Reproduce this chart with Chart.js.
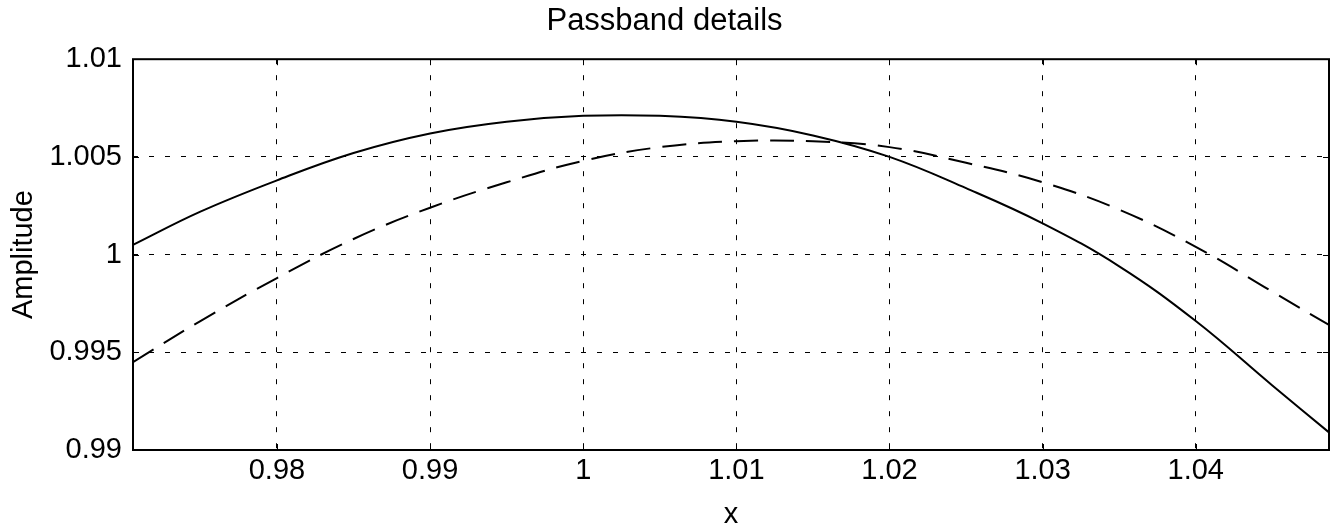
<!DOCTYPE html>
<html>
<head>
<meta charset="utf-8">
<script src="https://cdn.jsdelivr.net/npm/chart.js@4"></script>
<style>
  body { margin: 0; background: #fff; }
  #wrap { width: 1337px; height: 528px; position: relative; }
</style>
</head>
<body>
<div id="wrap"><canvas id="grafico"></canvas></div>
<script>
// dados
const xValores = [0.9706, 0.975, 0.98, 0.985, 0.99, 0.995, 1.0, 1.005, 1.01, 1.015, 1.02, 1.025, 1.03, 1.035, 1.04, 1.045, 1.0487];
const curvaSolida = [1.0005, 1.0022, 1.0038, 1.0052, 1.0062, 1.0068, 1.0071, 1.0071, 1.0068, 1.0061, 1.0050, 1.0034, 1.0016, 0.9994, 0.9966, 0.9933, 0.9909];
const curvaTracejada = [0.9945, 0.9966, 0.9988, 1.0008, 1.0024, 1.0037, 1.0048, 1.0055, 1.0058, 1.0058, 1.0055, 1.0047, 1.0037, 1.0023, 1.0004, 0.9981, 0.9964];
const xTicks = [0.98, 0.99, 1, 1.01, 1.02, 1.03, 1.04];
const yTicks = [0.99, 0.995, 1, 1.005, 1.01];

const fonte = "'Liberation Sans', Arial, Helvetica, sans-serif";
Chart.defaults.font.family = fonte;
Chart.defaults.color = "#000";

function pontos(ys) {
  return xValores.map((x, i) => ({ x: x, y: ys[i] }));
}

// moldura + marcas internas estilo matlab
const moldura = {
  id: "moldura",
  afterDatasetsDraw(chart) {
    const { ctx, chartArea: a, scales } = chart;
    ctx.save();
    ctx.strokeStyle = "#000";
    ctx.lineWidth = 1;
    ctx.setLineDash([]);
    ctx.beginPath();
    xTicks.forEach(v => {
      const px = Math.round(scales.x.getPixelForValue(v)) + 0.5;
      ctx.moveTo(px, a.bottom); ctx.lineTo(px, a.bottom - 6);
      ctx.moveTo(px, a.top); ctx.lineTo(px, a.top + 6);
    });
    yTicks.forEach(v => {
      const py = Math.round(scales.y.getPixelForValue(v)) + 0.5;
      ctx.moveTo(a.left, py); ctx.lineTo(a.left + 6, py);
      ctx.moveTo(a.right, py); ctx.lineTo(a.right - 6, py);
    });
    ctx.stroke();
    ctx.lineWidth = 2;
    ctx.strokeRect(a.left, a.top, a.right - a.left, a.bottom - a.top);
    ctx.restore();
  }
};

new Chart(document.getElementById("grafico"), {
  type: "line",
  data: {
    datasets: [
      {
        data: pontos(curvaSolida),
        borderColor: "#000",
        borderWidth: 2,
        pointRadius: 0,
        fill: false,
        tension: 0.4
      },
      {
        data: pontos(curvaTracejada),
        borderColor: "#000",
        borderWidth: 2,
        borderDash: [24, 12],
        pointRadius: 0,
        fill: false,
        tension: 0.4
      }
    ]
  },
  options: {
    responsive: true,
    maintainAspectRatio: false,
    animation: false,
    layout: { padding: { left: 0, right: 8, top: 0, bottom: 0 } },
    plugins: {
      legend: { display: false },
      tooltip: { enabled: false },
      title: {
        display: true,
        text: "Passband details",
        color: "#000",
        font: { size: 31, weight: "normal" },
        padding: { top: 3, bottom: 19 }
      }
    },
    scales: {
      x: {
        type: "linear",
        min: 0.9706,
        max: 1.0487,
        afterBuildTicks: s => { s.ticks = xTicks.map(v => ({ value: v })); },
        afterFit: s => { s.height = 78; },
        ticks: {
          padding: 4,
          font: { size: 29 },
          maxRotation: 0,
          callback: v => String(v)
        },
        grid: { color: "#000", lineWidth: 1, drawTicks: false },
        border: { display: false, dash: [5, 11] },
        title: {
          display: true,
          text: "x",
          font: { size: 29, lineHeight: 0.9 },
          padding: { top: 0, bottom: 0 }
        }
      },
      y: {
        min: 0.99,
        max: 1.01,
        afterBuildTicks: s => { s.ticks = yTicks.map(v => ({ value: v })); },
        afterFit: s => { s.width = 133; },
        ticks: {
          padding: 11,
          font: { size: 29 },
          callback: v => String(v)
        },
        grid: { color: "#000", lineWidth: 1, drawTicks: false },
        border: { display: false, dash: [5, 11] },
        title: {
          display: true,
          text: "Amplitude",
          font: { size: 29 },
          padding: { top: 7, bottom: 0 }
        }
      }
    }
  },
  plugins: [moldura]
});
</script>
</body>
</html>
